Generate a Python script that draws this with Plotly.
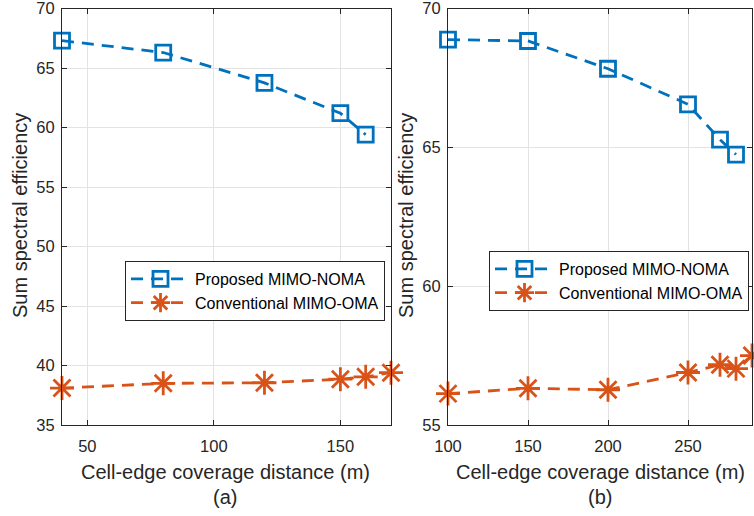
import plotly.graph_objects as go

# ---- data ----
dist_a_noma = [40, 80, 120, 150, 160]
se_a_noma = [67.3, 66.3, 63.75, 61.2, 59.4]
dist_a_oma = [40, 80, 120, 150, 160, 170]
se_a_oma = [38.1, 38.5, 38.55, 38.85, 39.05, 39.4]

dist_b_noma = [100, 150, 200, 250, 270, 280]
se_b_noma = [68.88, 68.83, 67.83, 66.55, 65.28, 64.74]
dist_b_oma = [100, 150, 200, 250, 270, 280, 290]
se_b_oma = [56.13, 56.32, 56.27, 56.89, 57.17, 57.03, 57.5]

ticks_a_x = [50, 100, 150]
ticks_a_y = [35, 40, 45, 50, 55, 60, 65, 70]
ticks_b_x = [100, 150, 200, 250]
ticks_b_y = [55, 60, 65, 70]

name_noma = "Proposed MIMO-NOMA"
name_oma = "Conventional MIMO-OMA"
xlabel = "Cell-edge coverage distance (m)"
ylabel = "Sum spectral efficiency"

BLUE = "#0072BD"
ORANGE = "#D95319"
AX = "#262626"
GRID = "#e3e3e3"
FONT = "Liberation Sans, Arial, Helvetica, sans-serif"

W, H = 754, 516

fig = go.Figure()

def add_pair(xn, yn, xo, yo, xa, ya, leg):
    fig.add_trace(go.Scatter(
        x=xn, y=yn, name=name_noma, mode="lines+markers",
        line=dict(color=BLUE, width=2.8, dash="12px,8px"),
        marker=dict(symbol="square-open", size=15, color=BLUE, line=dict(width=2.8, color=BLUE)),
        xaxis=xa, yaxis=ya, legend=leg, cliponaxis=False))
    fig.add_trace(go.Scatter(
        x=xo, y=yo, name=name_oma, mode="lines+markers",
        line=dict(color=ORANGE, width=2.8, dash="12px,8px"),
        marker=dict(symbol="asterisk-open", size=20, color=ORANGE, line=dict(width=2.8, color=ORANGE)),
        xaxis=xa, yaxis=ya, legend=leg, cliponaxis=False))

add_pair(dist_a_noma, se_a_noma, dist_a_oma, se_a_oma, "x", "y", "legend")
add_pair(dist_b_noma, se_b_noma, dist_b_oma, se_b_oma, "x2", "y2", "legend2")

def px_x(p):
    return p / W

def px_y(p):
    return 1 - p / H

axis_common = dict(
    showline=True, linecolor=AX, linewidth=1, mirror="ticks",
    ticks="inside", ticklen=5, tickcolor=AX, tickwidth=1,
    showgrid=True, gridcolor=GRID, gridwidth=1, zeroline=False,
    automargin=False, ticklabeloverflow="allow",
    tickfont=dict(family=FONT, size=16.5, color=AX),
)

ydom = [px_y(425), px_y(8.5)]

title_font = dict(family=FONT, size=20, color=AX)

def ann(text, x, y, angle=0):
    return dict(text=text, x=px_x(x), y=px_y(y), xref="paper", yref="paper",
                xanchor="center", yanchor="middle", showarrow=False,
                textangle=angle, font=title_font)

legend_common = dict(
    xanchor="left", yanchor="top",
    bgcolor="white", bordercolor=AX, borderwidth=1,
    font=dict(family=FONT, size=16, color="black"), itemwidth=59,
    tracegroupgap=0,
)

fig.update_layout(
    width=W, height=H,
    margin=dict(l=0, r=0, t=0, b=0, autoexpand=False),
    paper_bgcolor="white", plot_bgcolor="white",
    font=dict(family=FONT, color=AX),
    xaxis=dict(domain=[px_x(62), px_x(391)], range=[40, 170], tickvals=ticks_a_x,
               anchor="y", ticklabelstandoff=6, **axis_common),
    yaxis=dict(domain=ydom, range=[35, 70], tickvals=ticks_a_y,
               anchor="x", ticklabelstandoff=3, **axis_common),
    xaxis2=dict(domain=[px_x(448), px_x(752)], range=[100, 290], tickvals=ticks_b_x,
                anchor="y2", ticklabelstandoff=6, **axis_common),
    yaxis2=dict(domain=ydom, range=[55, 70], tickvals=ticks_b_y,
                anchor="x2", ticklabelstandoff=3, **axis_common),
    legend=dict(x=px_x(125), y=px_y(261), **legend_common),
    legend2=dict(x=px_x(489), y=px_y(251), **legend_common),
    showlegend=True,
    annotations=[
        ann(xlabel, 225, 472),
        ann(xlabel, 600, 472),
        ann(ylabel, 20, 216, -90),
        ann(ylabel, 406, 216, -90),
        ann("(a)", 225, 497),
        ann("(b)", 600, 497),
    ],
)

fig.write_html("out.html", config={"displayModeBar": False},
               post_script="document.body.style.margin='0';document.body.style.overflow='hidden';")
